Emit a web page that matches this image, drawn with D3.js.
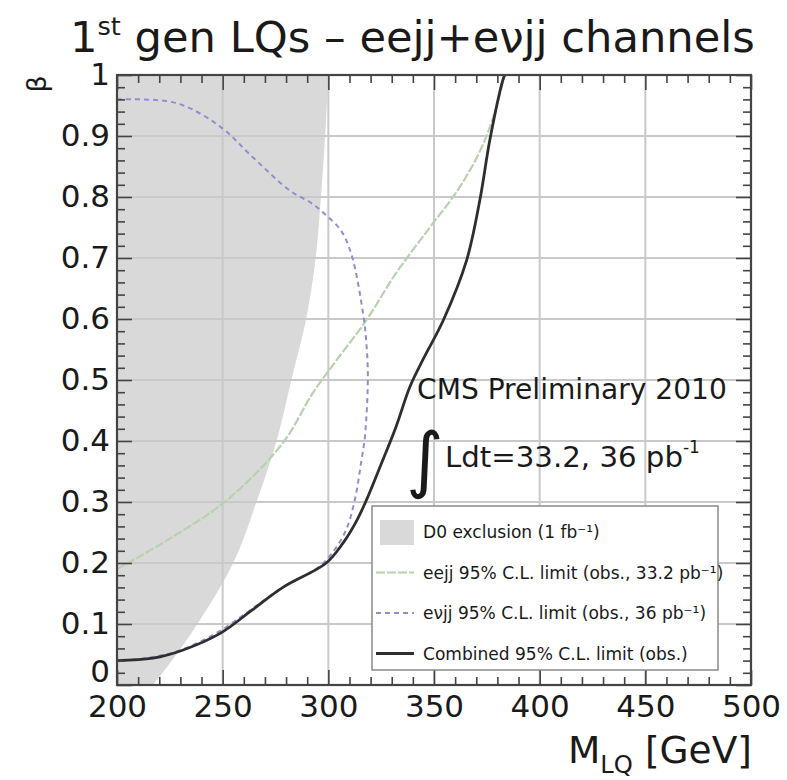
<!DOCTYPE html>
<html>
<head>
<meta charset="utf-8">
<script src="https://cdn.jsdelivr.net/npm/d3@7"></script>
<style>
  body { margin: 0; background: #fff; }
  text { font-family: "DejaVu Sans", "Liberation Sans", Arial, sans-serif; fill: #1a1a1a; }
</style>
</head>
<body>
<svg id="chart" width="787" height="780"></svg>
<script>
// Axis ticks
const massTicks = [200, 250, 300, 350, 400, 450, 500];
const massTickLabels = ["200", "250", "300", "350", "400", "450", "500"];
const betaTicks = [0, 0.1, 0.2, 0.3, 0.4, 0.5, 0.6, 0.7, 0.8, 0.9, 1];
const betaTickLabels = ["0", "0.1", "0.2", "0.3", "0.4", "0.5", "0.6", "0.7", "0.8", "0.9", "1"];

// D0 exclusion (1 fb^-1): excluded up to this mass at each beta
const d0Beta = [0, 0.04, 0.1, 0.2, 0.3, 0.4, 0.5, 0.6, 0.7, 0.8, 0.9, 1.0];
const d0Mass = [217, 226, 238, 255, 266, 275.5, 282.5, 289.5, 294, 296.5, 298.5, 300];

// eejj 95% C.L. observed limit (33.2 pb^-1)
const eejjMass = [200, 225, 252, 278.5, 292.7, 304, 318, 332, 348, 361, 371, 378, 383.5];
const eejjBeta = [0.19, 0.24, 0.303, 0.397, 0.479, 0.533, 0.598, 0.675, 0.75, 0.81, 0.87, 0.93, 1.0];

// evjj 95% C.L. observed limit (36 pb^-1)
const enujjMass = [200, 228, 249, 264, 282, 292, 299, 306, 311, 316.4, 318, 318.7, 317.3, 315.7, 312.5, 308.5, 303, 296, 277, 262, 246, 229, 214, 200];
const enujjBeta = [0.96, 0.954, 0.915, 0.866, 0.81, 0.79, 0.77, 0.745, 0.705, 0.61, 0.56, 0.505, 0.407, 0.369, 0.303, 0.255, 0.222, 0.195, 0.157, 0.12, 0.083, 0.056, 0.044, 0.04];

// Combined 95% C.L. observed limit
const combMass = [200, 217, 231, 249, 264, 278.5, 299, 307, 313.5, 318, 324.4, 332, 338.6, 344.7, 354.4, 365.5, 371.7, 376.4, 382.6, 383.5];
const combBeta = [0.04, 0.044, 0.057, 0.085, 0.123, 0.16, 0.2, 0.233, 0.27, 0.303, 0.357, 0.423, 0.489, 0.533, 0.598, 0.697, 0.795, 0.893, 0.992, 1.0];

// Legend entries
const legendLabels = [
  "D0 exclusion (1 fb\u207B\u00B9)",
  "eejj 95% C.L. limit (obs., 33.2 pb\u207B\u00B9)",
  "e\u03BDjj 95% C.L. limit (obs., 36 pb\u207B\u00B9)",
  "Combined 95% C.L. limit (obs.)"
];

const colD0 = "#d9d9d9", colEejj = "#b7d2ae", colEnujj = "#8e8ed0", colComb = "#2e2e2e";
const dashEejj = "9,2", dashEnujj = "5,4";

const svg = d3.select("#chart");
const W = 787, H = 780;
const frame = { left: 117, right: 751, top: 75, bottom: 685 };

const x = d3.scaleLinear().domain([200, 500]).range([frame.left, frame.right]);
const y = d3.scaleLinear().domain([0, 1]).range([frame.bottom, frame.top]);

// Scale a text element (and its tspans) so that it spans the given width
function fitWidth(sel, target) {
  const node = sel.node();
  const w = node.getBBox().width;
  const k = target / w;
  const scaleAttr = (el, a) => {
    const v = el.getAttribute(a);
    if (v !== null) el.setAttribute(a, parseFloat(v) * k);
  };
  scaleAttr(node, "font-size");
  node.querySelectorAll("tspan").forEach(t => { scaleAttr(t, "font-size"); scaleAttr(t, "dy"); });
  return sel;
}

svg.append("rect").attr("width", W).attr("height", H).attr("fill", "#fff");

svg.append("clipPath").attr("id", "plotClip").append("rect")
  .attr("x", frame.left).attr("y", frame.top)
  .attr("width", frame.right - frame.left).attr("height", frame.bottom - frame.top);

const plot = svg.append("g").attr("clip-path", "url(#plotClip)");

// Shaded D0 excluded region
const d0 = d0Beta.map((b, i) => ({ b, m: d0Mass[i] }));
plot.append("path")
  .datum(d0)
  .attr("fill", colD0)
  .attr("d", d3.area()
    .curve(d3.curveMonotoneY)
    .y(d => y(d.b))
    .x0(x(200))
    .x1(d => x(d.m)));

// Grid
const grid = plot.append("g").attr("stroke", "#c9c9c9").attr("stroke-width", 2);
grid.selectAll("line.v").data(massTicks.slice(1, -1)).join("line")
  .attr("x1", d => x(d)).attr("x2", d => x(d))
  .attr("y1", frame.top).attr("y2", frame.bottom);
grid.selectAll("line.h").data(betaTicks.slice(1, -1)).join("line")
  .attr("y1", d => y(d)).attr("y2", d => y(d))
  .attr("x1", frame.left).attr("x2", frame.right);

// Limit curves
const pts = (ms, bs) => ms.map((m, i) => ({ m, b: bs[i] }));
const line = d3.line().curve(d3.curveCatmullRom.alpha(0.5)).x(d => x(d.m)).y(d => y(d.b));

plot.append("path").datum(pts(eejjMass, eejjBeta))
  .attr("fill", "none").attr("stroke", colEejj).attr("stroke-width", 2.2)
  .attr("stroke-dasharray", dashEejj)
  .attr("d", line);
plot.append("path").datum(pts(enujjMass, enujjBeta))
  .attr("fill", "none").attr("stroke", colEnujj).attr("stroke-width", 2)
  .attr("stroke-dasharray", dashEnujj)
  .attr("d", line);
plot.append("path").datum(pts(combMass, combBeta))
  .attr("fill", "none").attr("stroke", colComb).attr("stroke-width", 2.8)
  .attr("d", line);

// Axes with inward ticks on all four sides
const minorMass = d3.range(200, 501, 10).filter(v => v % 50 !== 0);
const minorBeta = d3.range(0, 51, 1).filter(i => i % 5 !== 0).map(i => i / 50);
const axisStyle = g => {
  g.select(".domain").remove();
  g.selectAll("line").attr("stroke", "#444").attr("stroke-width", 1.6);
};
const labelStyle = g => g.selectAll("text")
  .attr("font-size", 31).attr("fill", "#1a1a1a")
  .attr("font-family", "DejaVu Sans, Liberation Sans, Arial, sans-serif");

svg.append("g").attr("transform", `translate(0,${frame.bottom})`)
  .call(d3.axisBottom(x).tickValues(massTicks).tickSize(-15).tickPadding(10)
    .tickFormat((d, i) => massTickLabels[i]))
  .call(axisStyle).call(labelStyle);
svg.append("g").attr("transform", `translate(0,${frame.bottom})`)
  .call(d3.axisBottom(x).tickValues(minorMass).tickSize(-8).tickFormat(""))
  .call(axisStyle);
svg.append("g").attr("transform", `translate(0,${frame.top})`)
  .call(d3.axisTop(x).tickValues(massTicks).tickSize(-15).tickFormat(""))
  .call(axisStyle);
svg.append("g").attr("transform", `translate(0,${frame.top})`)
  .call(d3.axisTop(x).tickValues(minorMass).tickSize(-8).tickFormat(""))
  .call(axisStyle);

svg.append("g").attr("transform", `translate(${frame.left},0)`)
  .call(d3.axisLeft(y).tickValues(betaTicks).tickSize(-15).tickPadding(7)
    .tickFormat((d, i) => betaTickLabels[i]))
  .call(axisStyle).call(labelStyle)
  .call(g => g.selectAll("text").filter(d => d === 0).attr("dy", "-0.12em"));
svg.append("g").attr("transform", `translate(${frame.left},0)`)
  .call(d3.axisLeft(y).tickValues(minorBeta).tickSize(-8).tickFormat(""))
  .call(axisStyle);
svg.append("g").attr("transform", `translate(${frame.right},0)`)
  .call(d3.axisRight(y).tickValues(betaTicks).tickSize(-15).tickFormat(""))
  .call(axisStyle);
svg.append("g").attr("transform", `translate(${frame.right},0)`)
  .call(d3.axisRight(y).tickValues(minorBeta).tickSize(-8).tickFormat(""))
  .call(axisStyle);

// Frame
svg.append("rect")
  .attr("x", frame.left).attr("y", frame.top)
  .attr("width", frame.right - frame.left).attr("height", frame.bottom - frame.top)
  .attr("fill", "none").attr("stroke", "#444").attr("stroke-width", 2.2);

// Legend
const leg = svg.append("g");
const legBox = { x0: 372, x1: 718, y0: 506, y1: 670 };
leg.append("rect")
  .attr("x", legBox.x0).attr("y", legBox.y0)
  .attr("width", legBox.x1 - legBox.x0).attr("height", legBox.y1 - legBox.y0)
  .attr("fill", "#fff").attr("stroke", "#8a8a8a").attr("stroke-width", 1.5);
const rowY = i => 532 + i * 40.5;
leg.append("rect").attr("x", 380).attr("y", rowY(0) - 12).attr("width", 34).attr("height", 25)
  .attr("fill", colD0);
leg.append("line").attr("x1", 376).attr("x2", 414).attr("y1", rowY(1)).attr("y2", rowY(1))
  .attr("stroke", colEejj).attr("stroke-width", 2.2).attr("stroke-dasharray", dashEejj);
leg.append("line").attr("x1", 376).attr("x2", 414).attr("y1", rowY(2)).attr("y2", rowY(2))
  .attr("stroke", colEnujj).attr("stroke-width", 2).attr("stroke-dasharray", dashEnujj);
leg.append("line").attr("x1", 376).attr("x2", 414).attr("y1", rowY(3)).attr("y2", rowY(3))
  .attr("stroke", colComb).attr("stroke-width", 3);
const legTexts = leg.selectAll("text.lab").data(legendLabels).join("text")
  .attr("class", "lab")
  .attr("x", 423).attr("y", (d, i) => rowY(i) + 6)
  .attr("font-size", 14).attr("fill", "#2a2a2a")
  .text(d => d);
// common legend font size, set by the last row's width
{
  const last = legTexts.nodes()[3];
  const k = 265 / last.getBBox().width;
  legTexts.attr("font-size", 14 * k);
}

// Title
const title = svg.append("text").attr("x", 70).attr("y", 52).attr("font-size", 44).attr("fill", "#111");
title.append("tspan").text("1");
title.append("tspan").attr("font-size", 26).attr("dy", -17).text("st");
title.append("tspan").attr("dy", 17).text(" gen LQs \u2013 eejj+e\u03BDjj channels");
fitWidth(title, 685);

// Axis titles
svg.append("text").attr("transform", "translate(46,84) rotate(-90)")
  .attr("font-size", 27).attr("text-anchor", "middle").text("\u03B2");
const xt = svg.append("text").attr("x", 568).attr("y", 763).attr("font-size", 34);
xt.append("tspan").text("M");
xt.append("tspan").attr("font-size", 22).attr("dy", 9).text("LQ");
xt.append("tspan").attr("dy", -9).text(" [GeV]");
fitWidth(xt, 184);

// Annotations
const cms = svg.append("text").attr("x", 417).attr("y", 399).attr("font-size", 28).text("CMS Preliminary 2010");
fitWidth(cms, 310);
svg.append("text").attr("x", 406).attr("y", 484).attr("font-size", 72)
  .attr("font-family", "DejaVu Sans, sans-serif").text("\u222B");
const lumi = svg.append("text").attr("x", 445).attr("y", 467).attr("font-size", 28);
lumi.append("tspan").text("Ldt=33.2, 36 pb");
fitWidth(lumi, 238);
lumi.append("tspan").attr("font-size", 17).attr("dy", -14).text("-1");
</script>
</body>
</html>
